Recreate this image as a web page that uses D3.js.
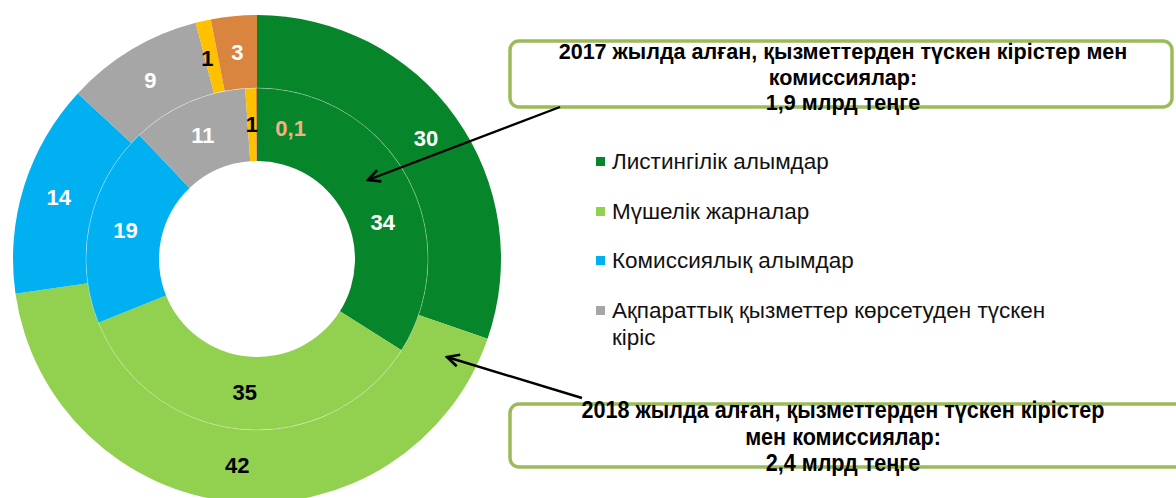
<!DOCTYPE html>
<html lang="kk">
<head>
<meta charset="UTF-8">
<title>Қызметтерден түскен кірістер мен комиссиялар</title>
<script src="https://d3js.org/d3.v7.min.js"></script>
<style>
    body { margin: 0; background: #fff; }
    svg { display: block; font-family: "Liberation Sans", Arial, sans-serif; }
    .slice-label { font-size: 22px; font-weight: bold; text-anchor: middle; dominant-baseline: central; }
    .legend-text { font-size: 22.5px; fill: #111; }
    .box-text { font-weight: bold; text-anchor: middle; fill: #000; }
</style>
</head>
<body>
<svg width="1176" height="498"></svg>
<script>
    // категориялар (сағат тілімен, жоғарыдан бастап)
    const categories = ["Листингілік алымдар", "Мүшелік жарналар", "Комиссиялық алымдар",
        "Ақпараттық қызметтер көрсетуден түскен кіріс", "Өзге", "Басқа"];
    const legendItems = categories.slice(0, 4);
    const colors = ["#07852A", "#92D050", "#00B0F0", "#A6A6A6", "#FFC000", "#D9843F"];

    // ішкі шеңбер — 2017, сыртқы — 2018 (%)
    const values2017 = [34, 35, 19, 11, 1, 0.1];
    const values2018 = [30, 42, 14, 9, 1, 3];

    const box2017 = ["2017 жылда алған, қызметтерден түскен кірістер мен", "комиссиялар:", "1,9 млрд теңге"];
    const box2018 = ["2018 жылда алған, қызметтерден түскен кірістер", "мен комиссиялар:", "2,4 млрд теңге"];

    const svg = d3.select("svg");
    const cx = 257, cy = 259;
    const rHole = 98, rMid = 171, rOuter = 244;

    const color = d3.scaleOrdinal().domain(categories).range(colors);
    const labelColor = { "Мүшелік жарналар": "#000", "Өзге": "#000" };
    // жазулардың қолмен жылжуы (Excel-дегідей)
    const nudge = { inner: { "Листингілік алымдар": [8, 28], "Басқа": [34, 4] }, outer: { "Өзге": [-4, 2] } };
    const innerOrangeLabel = "#F4B183";

    const pie = d3.pie().sort(null).value(d => d.v);
    const fmt = v => String(v).replace(".", ",");

    const g = svg.append("g").attr("transform", `translate(${cx},${cy})`);

    function ring(values, r0, r1, key) {
        const data = pie(categories.map((c, i) => ({ c, v: values[i] })));
        const arc = d3.arc().innerRadius(r0).outerRadius(r1);
        const labelArc = d3.arc().innerRadius((r0 + r1) / 2).outerRadius((r0 + r1) / 2);
        const rg = g.append("g");
        rg.selectAll("path").data(data).join("path")
            .attr("d", arc)
            .attr("fill", d => color(d.data.c));
        rg.selectAll("text").data(data).join("text")
            .attr("class", "slice-label")
            .attr("transform", d => {
                const [x, y] = labelArc.centroid(d);
                const n = (nudge[key] || {})[d.data.c] || [0, 0];
                return `translate(${x + n[0]},${y + n[1]})`;
            })
            .attr("fill", d => {
                if (key === "inner" && d.data.c === "Басқа") return innerOrangeLabel;
                return labelColor[d.data.c] || "#fff";
            })
            .text(d => fmt(d.data.v));
    }

    ring(values2018, rMid, rOuter, "outer");
    ring(values2017, rHole, rMid, "inner");

    // сақиналар арасындағы жіңішке сызық
    g.append("circle").attr("r", rMid).attr("fill", "none")
        .attr("stroke", "#fff").attr("stroke-opacity", 0.3).attr("stroke-width", 1);

    // легенда
    const legend = svg.append("g").attr("transform", "translate(596,0)");
    const legendY = [169, 219, 268, 318];
    legendItems.forEach((c, i) => {
        legend.append("rect").attr("x", 0).attr("y", legendY[i] - 12)
            .attr("width", 9).attr("height", 9).attr("fill", color(c));
        const t = legend.append("text").attr("class", "legend-text").attr("x", 16).attr("y", legendY[i]);
        if (i === 3) {
            t.append("tspan").attr("x", 16).text("Ақпараттық қызметтер көрсетуден түскен");
            t.append("tspan").attr("x", 16).attr("dy", 27).text("кіріс");
        } else {
            t.text(c);
        }
    });

    // түсініктеме қораптары
    const defs = svg.append("defs");
    defs.append("marker").attr("id", "arrow").attr("viewBox", "0 0 16 16")
        .attr("refX", 14).attr("refY", 8).attr("markerWidth", 16).attr("markerHeight", 16)
        .attr("markerUnits", "userSpaceOnUse").attr("orient", "auto")
        .append("path").attr("d", "M2,2 L14,8 L2,14").attr("fill", "none")
        .attr("stroke", "#000").attr("stroke-width", 2.6);

    function callout(lines, box, baseY, step, size, sx, from, to) {
        svg.append("rect").attr("x", box[0]).attr("y", box[1])
            .attr("width", box[2]).attr("height", box[3]).attr("rx", 9)
            .attr("fill", "#fff").attr("stroke", "#9BBB59").attr("stroke-width", 3.5);
        svg.append("line").attr("x1", from[0]).attr("y1", from[1])
            .attr("x2", to[0]).attr("y2", to[1])
            .attr("stroke", "#000").attr("stroke-width", 2.4)
            .attr("marker-end", "url(#arrow)");
        lines.forEach((s, i) => {
            svg.append("text").attr("class", "box-text")
                .style("font-size", size + "px")
                .attr("transform", `translate(843,${baseY + i * step}) scale(${sx},1)`)
                .text(s);
        });
    }

    callout(box2017, [510, 41, 662, 66], 59, 25.5, 22, 0.98, [560, 107], [368, 180]);
    callout(box2018, [510, 404, 700, 63], 418, 26.5, 24, 0.9, [582, 398], [447, 357]);
</script>
</body>
</html>
